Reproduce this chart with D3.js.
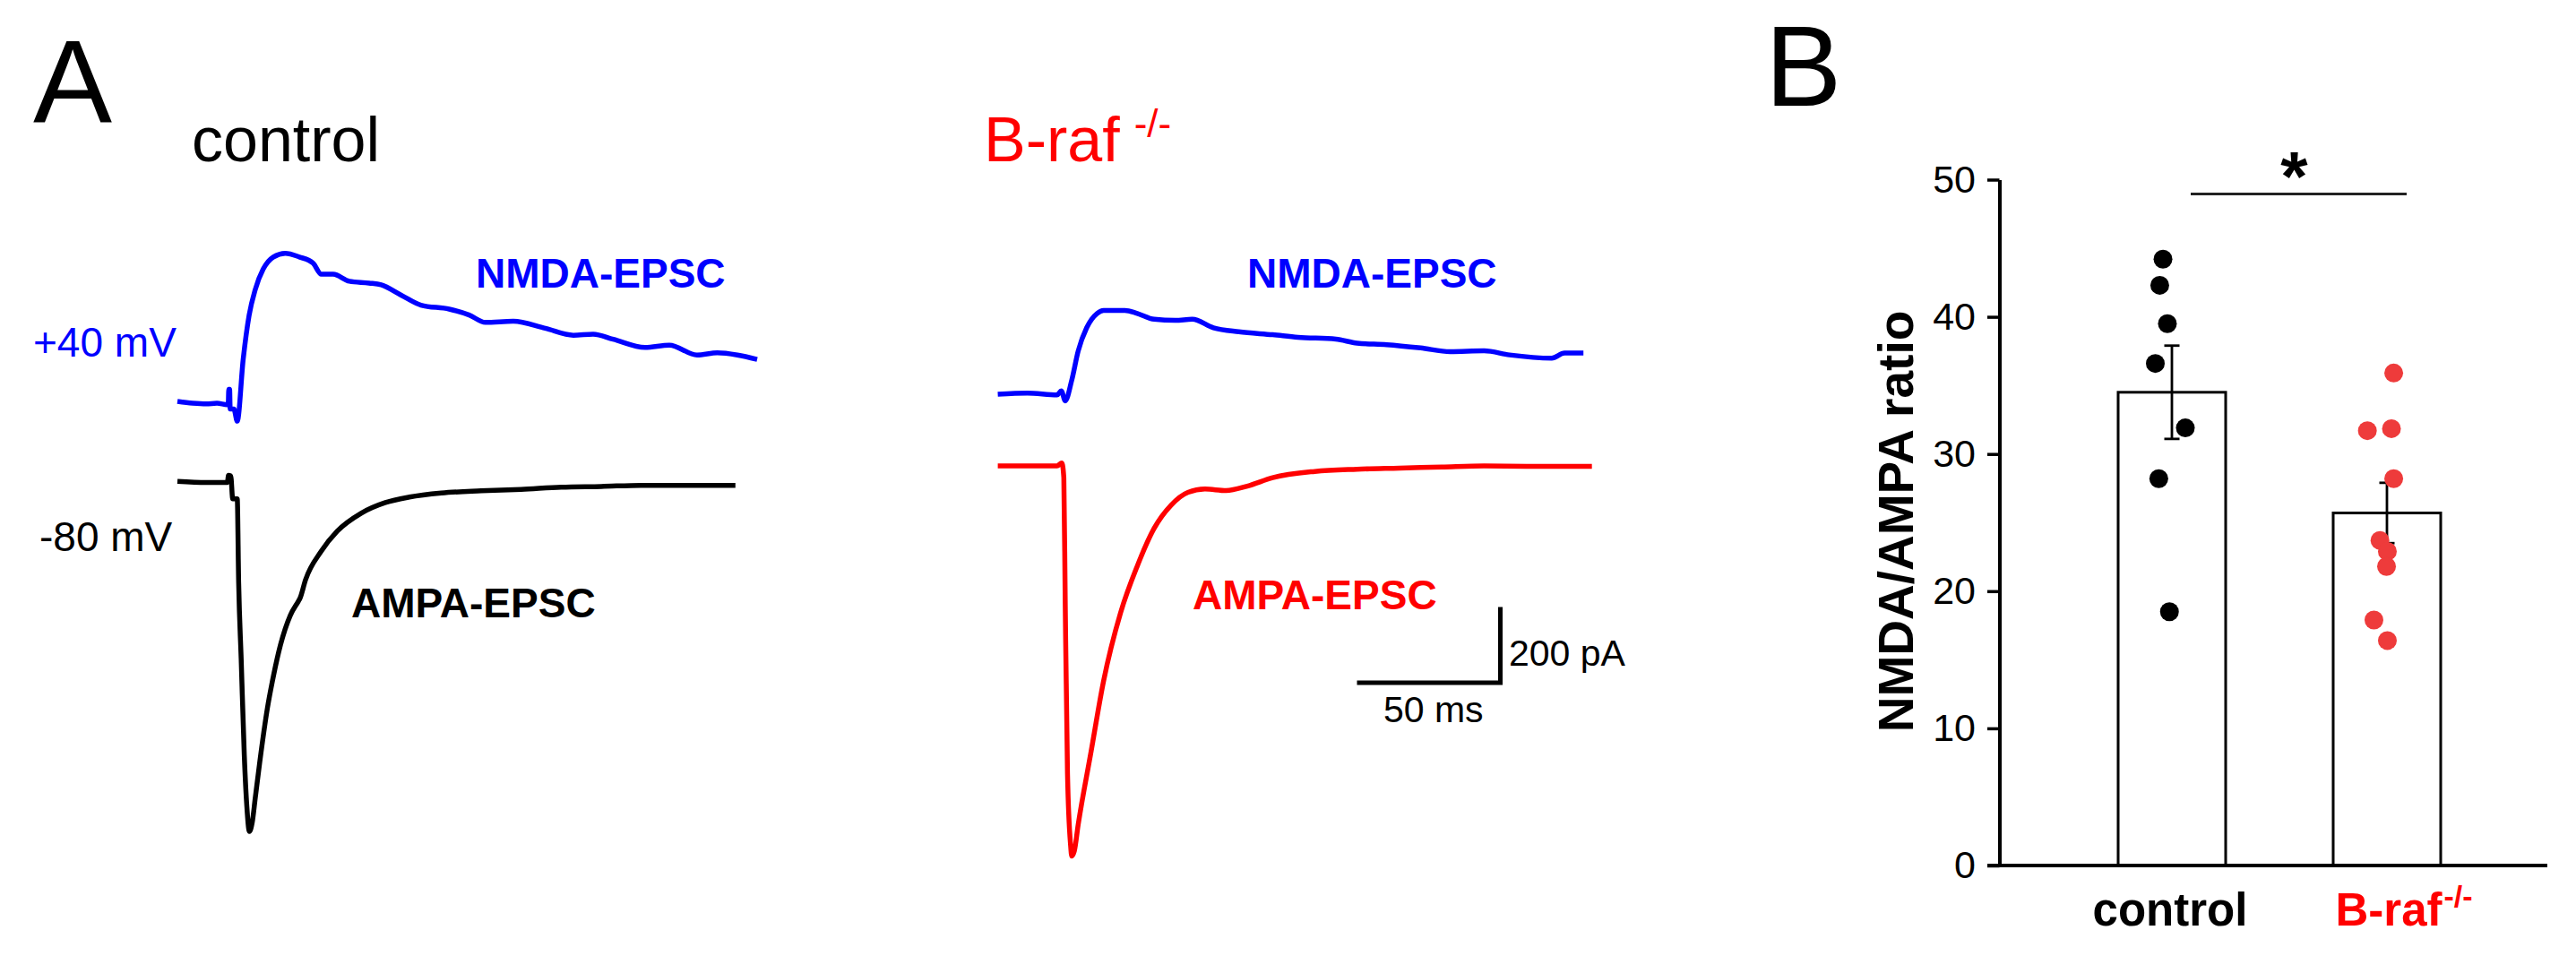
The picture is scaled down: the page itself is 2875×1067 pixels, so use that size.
<!DOCTYPE html>
<html><head><meta charset="utf-8">
<script src="https://cdn.jsdelivr.net/npm/d3@7"></script>
<style>html,body{margin:0;padding:0;background:#fff;} svg{display:block;}</style>
</head><body>
<svg id="chart" width="2875" height="1067"></svg>
<script>
// ---------------- DATA ----------------
// Panel A traces: [time (ms), current (pA)] relative to trace start / baseline
const controlNMDA = [[0,5],[5.4,0],[10.2,-2],[14,0],[17.7,-4],[18.0,-4],[18.2,38],[18.5,38],[18.7,-16],[20,-16],[21.2,-49],[23.3,119],[25.4,239],[27.6,310],[30.4,365],[34.0,398],[38.2,408],[43.2,398],[48.1,381],[51.0,351],[55.2,351],[60.9,332],[67.9,327],[72.2,322],[79.3,294],[86.3,267],[96.3,256],[103.4,240],[109.1,220],[119.0,223],[130.3,204],[140.3,185],[147.3,188],[154.4,174],[165.7,152],[174.3,158],[184.1,131],[191.3,137],[198.4,131],[205.4,119]];
const controlAMPA = [[0,2],[10.2,-1],[17.7,-1],[18.1,18],[18.9,17],[19.6,-46],[21.2,-46],[21.7,-273],[22.6,-483],[23.7,-744],[24.6,-883],[25.5,-951],[26.5,-927],[27.6,-859],[29.2,-761],[31.9,-615],[34.0,-529],[36.5,-444],[40.0,-363],[42.9,-324],[43.4,-317],[45.4,-266],[51.0,-188],[56.6,-134],[65.1,-85],[73.7,-56],[82.2,-41],[93.5,-30],[107.6,-24],[121.8,-20],[136.0,-14],[150.2,-12],[164.3,-9],[178.4,-9],[197.7,-9]];
const brafNMDA = [[0,0],[10.5,3],[21.0,-2],[22.5,9],[23.9,-18],[26.2,38],[28.5,118],[31.5,181],[35.2,220],[37.5,228],[45.0,228],[49.4,220],[55.4,204],[62.9,201],[68.9,204],[76.4,181],[85.4,170],[97.4,162],[106.4,155],[119.8,150],[127.3,139],[137.8,135],[149.8,126],[160.3,116],[172.3,118],[181.3,107],[196.3,98],[200.8,112],[207.5,112]];
const brafAMPA = [[0,0],[21.0,0],[22.7,8],[23.4,-32],[23.9,-377],[24.7,-838],[25.8,-1033],[26.2,-1062],[27.1,-1049],[28.5,-976],[33.0,-780],[37.5,-585],[43.5,-400],[49.4,-273],[55.4,-170],[61.4,-107],[67.4,-72],[73.4,-63],[80.9,-67],[88.4,-55],[97.4,-32],[112.3,-15],[127.3,-9],[142.3,-6],[157.3,-3],[172.3,0],[187.3,-1],[210.5,-1]];
const scaleBarMs = 50;
const scaleBarPA = 200;

// Panel B
const groups = ["control", "B-raf"];
const groupMeans = [34.5, 25.7];
const groupSEM = [3.4, 2.2];
const controlValues = [44.2, 42.3, 39.5, 36.6, 31.9, 28.2, 18.5];
const brafValues = [35.9, 31.7, 31.85, 28.2, 23.7, 22.9, 21.8, 17.9, 16.4];
const controlJitter = [-0.083, -0.113, -0.042, -0.154, 0.125, -0.122, -0.023];
const brafJitter = [0.063, -0.182, 0.042, 0.063, -0.065, 0.004, -0.004, -0.121, 0.004];
const yTicks = [0, 10, 20, 30, 40, 50];

// ---------------- DRAW ----------------
const FONT = "'Liberation Sans', Arial, Helvetica, sans-serif";
const BLUE = "#0000ff", RED = "#ff0000", DOTRED = "#ee3b3b";
const svg = d3.select("#chart");
svg.append("rect").attr("width", 2875).attr("height", 1067).attr("fill", "#fff");

function txt(x, y, s, size, opt = {}) {
  return svg.append("text").attr("x", x).attr("y", y).text(s)
    .attr("font-family", FONT).attr("font-size", size)
    .attr("font-weight", opt.bold ? "bold" : "normal")
    .attr("fill", opt.fill || "#000")
    .attr("text-anchor", opt.anchor || "start");
}

// Panel labels & titles
txt(37, 137, "A", 132);
txt(1970, 118, "B", 128);
txt(214, 180, "control", 70);
const braf = txt(1098, 180, "B-raf", 70, {fill: RED});
const brafW = braf.node().getComputedTextLength();
txt(1098 + brafW + 16, 153, "-/-", 44, {fill: RED});

txt(37, 398, "+40 mV", 46, {fill: BLUE});
txt(44, 615, "-80 mV", 46);
txt(531, 321, "NMDA-EPSC", 46, {bold: true, fill: BLUE});
txt(392, 689, "AMPA-EPSC", 46, {bold: true});
txt(1392, 321, "NMDA-EPSC", 46, {bold: true, fill: BLUE});
txt(1331, 680, "AMPA-EPSC", 46, {bold: true, fill: RED});

// Traces
const traceSpecs = [
  {data: controlNMDA, x0: 198, y0: 450, color: BLUE},
  {data: controlAMPA, x0: 198, y0: 538, color: "#000"},
  {data: brafNMDA, x0: 1113.6, y0: 440, color: BLUE},
  {data: brafAMPA, x0: 1113.6, y0: 520, color: RED}
];
const PX_PER_50MS = 157.5, PX_PER_200PA = 82;
traceSpecs.forEach(t => {
  const xs = d3.scaleLinear().domain([0, scaleBarMs]).range([t.x0, t.x0 + PX_PER_50MS]);
  const ys = d3.scaleLinear().domain([0, scaleBarPA]).range([t.y0, t.y0 - PX_PER_200PA]);
  const line = d3.line().x(d => xs(d[0])).y(d => ys(d[1])).curve(d3.curveMonotoneX);
  svg.append("path").attr("d", line(t.data)).attr("fill", "none")
    .attr("stroke", t.color).attr("stroke-width", 5.5)
    .attr("stroke-linejoin", "round").attr("stroke-linecap", "butt");
});

// Scale bar
{
  const xs = d3.scaleLinear().domain([0, scaleBarMs]).range([1517, 1517 + PX_PER_50MS]);
  const ys = d3.scaleLinear().domain([0, scaleBarPA]).range([762, 762 - PX_PER_200PA]);
  svg.append("path")
    .attr("d", `M${xs(0)},${ys(0)}H${xs(scaleBarMs)}V${ys(scaleBarPA)}`)
    .attr("fill", "none").attr("stroke", "#000").attr("stroke-width", 5)
    .attr("stroke-linejoin", "miter").attr("stroke-linecap", "square");
  txt(1684, 743, scaleBarPA + " pA", 41);
  txt((xs(0) + xs(scaleBarMs)) / 2 + 4, 806, scaleBarMs + " ms", 41, {anchor: "middle"});
}

// Panel B
const x = d3.scaleBand().domain(groups).range([2304, 2784]).paddingInner(0.5).paddingOuter(0.25);
const y = d3.scaleLinear().domain([0, 50]).range([966, 200.5]);
const bw = x.bandwidth();

// bars
svg.selectAll("rect.bar").data(groups).enter().append("rect").attr("class", "bar")
  .attr("x", d => x(d)).attr("y", (d, i) => y(groupMeans[i]))
  .attr("width", bw).attr("height", (d, i) => y(0) - y(groupMeans[i]))
  .attr("fill", "#fff").attr("stroke", "#000").attr("stroke-width", 3);

// error bars
groups.forEach((g, i) => {
  const cx = x(g) + bw / 2;
  const lo = y(groupMeans[i] - groupSEM[i]), hi = y(groupMeans[i] + groupSEM[i]);
  const eg = svg.append("g").attr("stroke", "#000").attr("stroke-width", 2.8);
  eg.append("line").attr("x1", cx).attr("x2", cx).attr("y1", lo).attr("y2", hi);
  eg.append("line").attr("x1", cx - 8.5).attr("x2", cx + 8.5).attr("y1", lo).attr("y2", lo);
  eg.append("line").attr("x1", cx - 8.5).attr("x2", cx + 8.5).attr("y1", hi).attr("y2", hi);
});

// dots
const dotSets = [
  {g: "control", vals: controlValues, jit: controlJitter, color: "#000"},
  {g: "B-raf", vals: brafValues, jit: brafJitter, color: DOTRED}
];
dotSets.forEach(s => {
  svg.append("g").selectAll("circle").data(s.vals).enter().append("circle")
    .attr("cx", (d, i) => x(s.g) + bw / 2 + s.jit[i] * bw)
    .attr("cy", d => y(d)).attr("r", 10.5).attr("fill", s.color);
});

// y axis
const yAxis = svg.append("g").attr("transform", "translate(2231.5,0)")
  .call(d3.axisLeft(y).tickValues(yTicks).tickSize(13.5).tickSizeOuter(0).tickPadding(13));
yAxis.select(".domain").attr("stroke", "#000").attr("stroke-width", 4);
yAxis.selectAll(".tick line").attr("stroke", "#000").attr("stroke-width", 3.5);
yAxis.selectAll(".tick text").attr("font-family", FONT).attr("font-size", 43).attr("fill", "#000");

// x axis line
svg.append("line").attr("x1", 2218).attr("x2", 2843).attr("y1", y(0)).attr("y2", y(0))
  .attr("stroke", "#000").attr("stroke-width", 4);

// x labels
txt(x("control") + bw / 2 - 2, 1033, "control", 51, {bold: true, anchor: "middle"});
const bl = txt(x("B-raf") + bw / 2 + 2, 1033, "B-raf", 51, {bold: true, anchor: "middle", fill: RED});
const blW = bl.node().getComputedTextLength();
txt(x("B-raf") + bw / 2 + 2 + blW / 2 + 2, 1012, "-/-", 34, {bold: true, fill: RED});

// y label
svg.append("text").attr("transform", "translate(2135,582) rotate(-90)")
  .attr("text-anchor", "middle").attr("font-family", FONT).attr("font-size", 55)
  .attr("font-weight", "bold").attr("fill", "#000").text("NMDA/AMPA ratio");

// significance
const sigY = y(48.95);
const sx1 = x("control") + bw / 2 + 21, sx2 = x("B-raf") + bw / 2 + 22;
svg.append("line").attr("x1", sx1).attr("x2", sx2).attr("y1", sigY).attr("y2", sigY)
  .attr("stroke", "#222").attr("stroke-width", 3);
txt((sx1 + sx2) / 2 - 5, 224, "*", 78, {bold: true, anchor: "middle"});
</script>
</body></html>
